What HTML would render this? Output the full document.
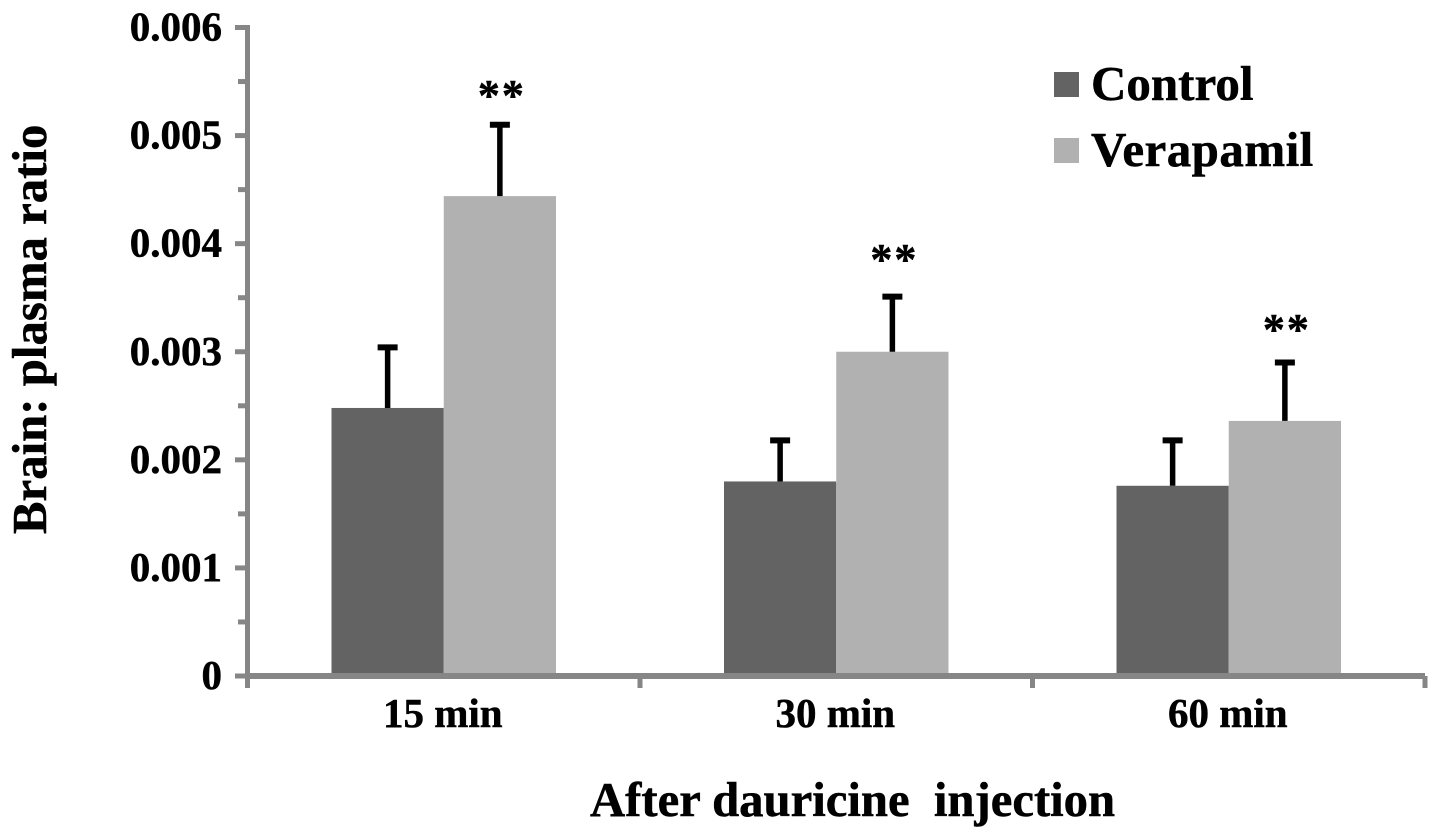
<!DOCTYPE html>
<html lang="en">
<head>
<meta charset="utf-8">
<title>Brain: plasma ratio chart</title>
<style>
html,body{margin:0;padding:0;background:#fff;}
svg{display:block;}
text{font-family:"Liberation Serif",serif;font-weight:bold;fill:#000;stroke:#000;stroke-width:0.5px;white-space:pre;}
</style>
</head>
<body>
<svg id="chart" width="1441" height="839" viewBox="0 0 1441 839" xmlns="http://www.w3.org/2000/svg">
  <rect x="0" y="0" width="1441" height="839" fill="#ffffff"/>
  <g id="bars"></g>
  <g id="errors"></g>
  <g id="stars"></g>
  <g id="axes"></g>
  <g id="ylabels"></g>
  <g id="xlabels"></g>
  <text transform="translate(46,534) rotate(-90)" font-size="48.8">Brain: plasma ratio</text>
  <text x="590" y="816" font-size="48.7">After dauricine  injection</text>
  <g>
    <rect x="1054" y="72" width="25" height="25" fill="#636363"/>
    <text x="1091" y="100" font-size="49">Control</text>
    <rect x="1054" y="138" width="25" height="25" fill="#b1b1b1"/>
    <text x="1091" y="166" font-size="49" letter-spacing="0.45">Verapamil</text>
  </g>
</svg>
<script>
const categories = ['15 min', '30 min', '60 min'];
const controlValues = [0.00248, 0.00180, 0.00176];
const verapamilValues = [0.00444, 0.00300, 0.00236];
const controlErrorTops = [0.00304, 0.00218, 0.00218];
const verapamilErrorTops = [0.00510, 0.00351, 0.00290];
const significance = ['**', '**', '**'];
const significanceLevels = [0.005237, 0.00372, 0.00307];
const yTickLabels = ['0', '0.001', '0.002', '0.003', '0.004', '0.005', '0.006'];

const NS = 'http://www.w3.org/2000/svg';
const AXIS = '#868686';
const yMax = 0.006;
const plot = {left: 247.5, right: 1425, top: 27.5, bottom: 676};

function y(v) { return plot.bottom - (v / yMax) * (plot.bottom - plot.top); }
function groupLeft(i) { return plot.left + i * (plot.right - plot.left) / categories.length; }
function groupWidth() { return (plot.right - plot.left) / categories.length; }
function barWidth() { return groupWidth() * 0.286; }
function barX(i, s) { return groupLeft(i) + groupWidth() * 0.2140 + s * barWidth(); }

function make(tag, attrs, parent) {
  const el = document.createElementNS(NS, tag);
  for (const k in attrs) el.setAttribute(k, attrs[k]);
  parent.appendChild(el);
  return el;
}

const barsG = document.getElementById('bars');
const errorsG = document.getElementById('errors');
const starsG = document.getElementById('stars');
const axesG = document.getElementById('axes');
const yLabelsG = document.getElementById('ylabels');
const xLabelsG = document.getElementById('xlabels');

const seriesList = [
  {key: 'control', values: controlValues, tops: controlErrorTops, fill: '#636363'},
  {key: 'verapamil', values: verapamilValues, tops: verapamilErrorTops, fill: '#b1b1b1'}
];

categories.forEach(function (cat, i) {
  seriesList.forEach(function (s, si) {
    const bx = barX(i, si);
    const bw = barWidth();
    const cx = bx + bw / 2;
    const bar = make('rect', {x: bx, y: y(s.values[i]), width: bw, height: plot.bottom - y(s.values[i]), fill: s.fill}, barsG);
    
    
    const stem = make('line', {x1: cx, x2: cx, y1: y(s.values[i]), y2: y(s.tops[i]), stroke: '#000', 'stroke-width': 5.5}, errorsG);
    
    
    const cap = make('line', {x1: cx - 10, x2: cx + 10, y1: y(s.tops[i]), y2: y(s.tops[i]), stroke: '#000', 'stroke-width': 6}, errorsG);
    
    
  });
  const star = make('text', {x: barX(i, 1) + barWidth() / 2 + 2, y: y(significanceLevels[i]), 'text-anchor': 'middle', 'font-size': 44, 'letter-spacing': 2}, starsG);
  star.textContent = significance[i];
  
  
  const lbl = make('text', {x: groupLeft(i) + groupWidth() / 2 - 1, y: 727, 'text-anchor': 'middle', 'font-size': 41}, xLabelsG);
  lbl.textContent = cat;
  
  
});

const yAxisLine = make('line', {x1: plot.left, x2: plot.left, y1: plot.top - 2.5, y2: 688, stroke: AXIS, 'stroke-width': 5}, axesG);


const xAxisLine = make('line', {x1: plot.left, x2: plot.right, y1: plot.bottom, y2: plot.bottom, stroke: AXIS, 'stroke-width': 6}, axesG);



yTickLabels.forEach(function (t, i) {
  const v = i * yMax / (yTickLabels.length - 1);
  const major = make('line', {x1: 235, x2: plot.left, y1: y(v), y2: y(v), stroke: AXIS, 'stroke-width': 5}, axesG);
  
  
  if (i < yTickLabels.length - 1) {
    const mv = v + yMax / (yTickLabels.length - 1) / 2;
    const minor = make('line', {x1: 238, x2: plot.left, y1: y(mv), y2: y(mv), stroke: AXIS, 'stroke-width': 5}, axesG);
    
    
  }
  const lbl = make('text', {x: 222, y: y(v) + 13, 'text-anchor': 'end', 'font-size': 41}, yLabelsG);
  lbl.textContent = t;
  
  
});

for (let i = 1; i <= categories.length; i++) {
  const gx = plot.left + i * groupWidth();
  const tick = make('line', {x1: gx, x2: gx, y1: plot.bottom, y2: 688, stroke: AXIS, 'stroke-width': 5}, axesG);
  
  
}
</script>
</body>
</html>
